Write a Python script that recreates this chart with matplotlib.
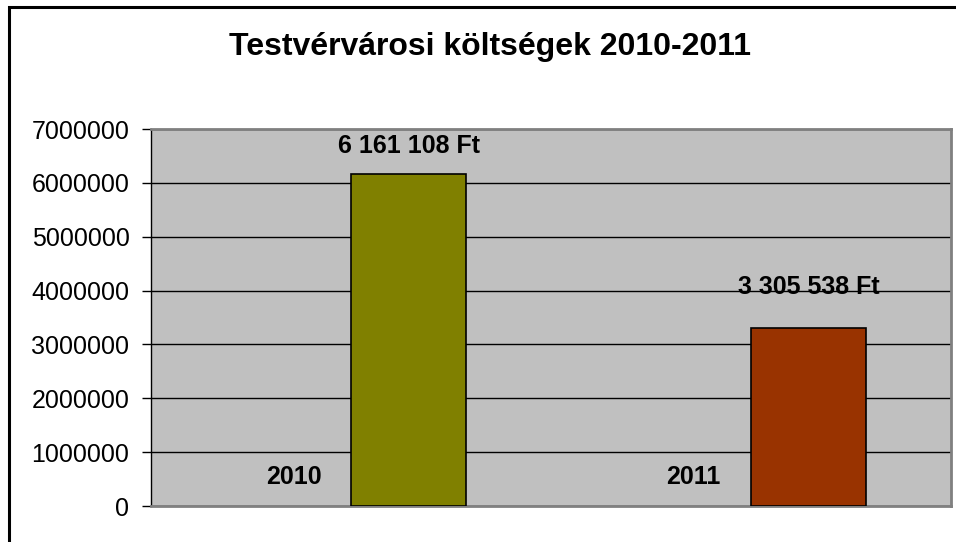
import matplotlib.pyplot as plt
from matplotlib.patches import Rectangle
import numpy as np

plt.rcParams['font.family'] = ['Liberation Sans', 'DejaVu Sans']

title = "Testvérvárosi költségek 2010-2011"
years = ["2010", "2011"]
costs = [6161108, 3305538]
cost_labels = ["6 161 108 Ft", "3 305 538 Ft"]
bar_colors = ["#808000", "#993300"]
yticks = [0, 1000000, 2000000, 3000000, 4000000, 5000000, 6000000, 7000000]

fig = plt.figure(figsize=(9.56, 5.42), dpi=100)
# outer chart border (only left and top edges are visible)
fig.patches.append(Rectangle((9 / 956, -0.1), 1.2, 1.1 - 7 / 542,
                             transform=fig.transFigure, fill=False,
                             edgecolor="black", linewidth=2.2, zorder=0))

ax = fig.add_axes([151 / 956, 1 - 506 / 542, (951 - 151) / 956, (506 - 129) / 542])
ax.set_facecolor("#c0c0c0")

x = np.arange(len(years))
w = 0.2875
ax.bar(x + w / 2, costs, width=w, color=bar_colors, edgecolor="black", linewidth=1.2, zorder=3)

# year labels sit where the (empty) first series would be
for xi, yr in zip(x, years):
    ax.text(xi - w / 2, 540000, yr, ha="center", va="center",
            fontsize=18, fontweight="bold", zorder=4)

offsets = [28, 41]
for xi, v, lab, off in zip(x, costs, cost_labels, offsets):
    ax.annotate(lab, (xi + w / 2, v), xytext=(0, off), textcoords="offset pixels",
                ha="center", va="center", fontsize=18, fontweight="bold", zorder=4)

ax.set_xlim(-0.5, 1.5)
ax.set_ylim(0, 7000000)
ax.set_yticks(yticks)
ax.set_yticklabels([str(t) for t in yticks], fontsize=18)
ax.set_xticks([])
ax.yaxis.grid(True, color="black", linewidth=1)
ax.set_axisbelow(True)
ax.tick_params(axis="y", length=6.5, width=1, color="black", pad=9)

for s in ["top", "right", "bottom"]:
    ax.spines[s].set_color("#808080")
    ax.spines[s].set_linewidth(2)
ax.spines["left"].set_color("black")
ax.spines["left"].set_linewidth(1)

fig.text(490 / 956, 1 - 47 / 542, title, ha="center", va="center",
         fontsize=23, fontweight="bold")

fig.savefig("out.png", dpi=100)
